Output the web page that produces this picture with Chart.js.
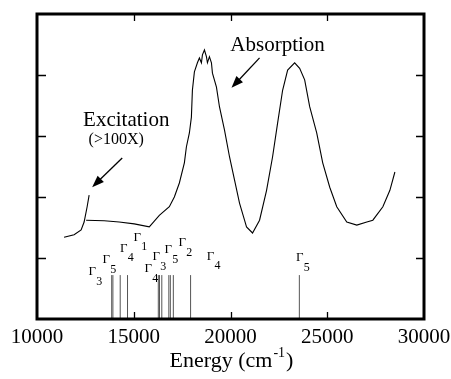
<!DOCTYPE html>
<html>
<head>
<meta charset="utf-8">
<script src="https://cdn.jsdelivr.net/npm/chart.js@4.4.1/dist/chart.umd.min.js"></script>
<style>
  body { margin: 0; background: #fff; }
  #wrap { width: 451px; height: 379px; }
</style>
</head>
<body>
<div id="wrap"><canvas id="chart" width="451" height="379"></canvas></div>
<script>
// energies in cm-1, intensities in arbitrary units (0..5)
const excitationEnergy = [11399, 11917, 12280, 12435, 12591, 12694]
const excitationIntensity = [1.34, 1.38, 1.46, 1.59, 1.84, 2.03]

const absorptionEnergy = [12539, 13471, 14248, 15026, 15803, 16321, 16839, 17098, 17357, 17616,
    17720, 17875, 17979, 18031, 18134, 18290, 18393, 18497, 18549, 18653,
    18756, 18808, 18911, 19015, 19067, 19274, 19429, 19688, 19948, 20207,
    20466, 20725, 20828, 21139, 21502, 21864, 22175, 22434, 22693, 22953,
    23315, 23574, 23833, 24092, 24455, 24766, 25129, 25491, 26009, 26527,
    27045, 27356, 27874, 28237, 28496]
const absorptionIntensity = [1.62, 1.61, 1.59, 1.56, 1.51, 1.70, 1.84, 2.00, 2.23, 2.56,
    2.82, 3.05, 3.31, 3.75, 4.05, 4.20, 4.28, 4.20, 4.33, 4.41,
    4.30, 4.20, 4.30, 4.20, 4.03, 3.80, 3.48, 3.10, 2.66, 2.28,
    1.90, 1.62, 1.51, 1.41, 1.62, 2.11, 2.66, 3.21, 3.75, 4.08,
    4.20, 4.11, 3.92, 3.48, 3.05, 2.56, 2.16, 1.84, 1.59, 1.54,
    1.59, 1.62, 1.84, 2.11, 2.41]

// calculated transitions (sticks)
const transitionEnergy = [13860, 13922, 14300, 14678, 16269, 16331, 16450, 16813, 16891, 17046, 17937, 23558]
const transitionHeight = 0.72

// irreducible representation labels
const levelSymbol = ["3", "5", "4", "1", "4", "3", "5", "2", "4", "5"]
const levelEnergy = [12850, 13575, 14482, 15181, 15751, 16165, 16787, 17512, 18963, 23574]
const levelHeight = [0.77, 0.97, 1.16, 1.34, 0.82, 1.02, 1.13, 1.25, 1.03, 1.00]

const xTicks = [10000, 15000, 20000, 25000, 30000]
const yTicks = [1, 2, 3, 4]

const serif = "'Liberation Serif', 'Times New Roman', serif"

const toPoints = (xs, ys) => xs.map((x, i) => ({x: x, y: ys[i]}))

const sticks = []
transitionEnergy.forEach(e => {
    sticks.push({x: e, y: 0})
    sticks.push({x: e, y: transitionHeight})
    sticks.push({x: e, y: null})
})

const arrow = (ctx, x1, y1, x2, y2) => {
    const a = Math.atan2(y2 - y1, x2 - x1)
    ctx.beginPath()
    ctx.moveTo(x1, y1)
    ctx.lineTo(x2 - 6 * Math.cos(a), y2 - 6 * Math.sin(a))
    ctx.stroke()
    ctx.beginPath()
    ctx.moveTo(x2, y2)
    ctx.lineTo(x2 - 12 * Math.cos(a) + 4.5 * Math.sin(a), y2 - 12 * Math.sin(a) - 4.5 * Math.cos(a))
    ctx.lineTo(x2 - 12 * Math.cos(a) - 4.5 * Math.sin(a), y2 - 12 * Math.sin(a) + 4.5 * Math.cos(a))
    ctx.closePath()
    ctx.fill()
}

const decorations = {
    id: "decorations",
    afterDraw(chart) {
        const ctx = chart.ctx
        const a = chart.chartArea
        const xs = chart.scales.x
        const ys = chart.scales.y
        ctx.save()
        ctx.strokeStyle = "#000"
        ctx.fillStyle = "#000"

        // frame
        ctx.lineWidth = 3
        ctx.strokeRect(a.left, a.top, a.right - a.left, a.bottom - a.top)

        // inward ticks
        ctx.lineWidth = 1.3
        ctx.beginPath()
        xTicks.slice(1, -1).forEach(v => {
            const px = Math.round(xs.getPixelForValue(v)) + 0.5
            ctx.moveTo(px, a.bottom); ctx.lineTo(px, a.bottom - 7)
            ctx.moveTo(px, a.top); ctx.lineTo(px, a.top + 7)
        })
        yTicks.forEach(v => {
            const py = Math.round(ys.getPixelForValue(v)) + 0.5
            ctx.moveTo(a.left, py); ctx.lineTo(a.left + 9, py)
            ctx.moveTo(a.right, py); ctx.lineTo(a.right - 8, py)
        })
        ctx.stroke()

        // Gamma labels
        ctx.textAlign = "center"
        ctx.textBaseline = "middle"
        levelSymbol.forEach((s, i) => {
            const px = xs.getPixelForValue(levelEnergy[i])
            const py = ys.getPixelForValue(levelHeight[i])
            ctx.font = "13px " + serif
            ctx.fillText("\u0393", px, py)
            ctx.font = "12px " + serif
            ctx.fillText(s, px + 7, py + 10)
        })

        // annotations
        ctx.font = "21px " + serif
        ctx.fillText("Excitation", xs.getPixelForValue(14611), ys.getPixelForValue(3.26))
        ctx.font = "16px " + serif
        ctx.fillText("(>100X)", xs.getPixelForValue(14093), ys.getPixelForValue(2.93))
        ctx.font = "21px " + serif
        ctx.fillText("Absorption", xs.getPixelForValue(22434), ys.getPixelForValue(4.49))

        ctx.lineWidth = 1.3
        arrow(ctx, xs.getPixelForValue(14404), ys.getPixelForValue(2.64),
                   xs.getPixelForValue(12850), ys.getPixelForValue(2.16))
        arrow(ctx, xs.getPixelForValue(21502), ys.getPixelForValue(4.28),
                   xs.getPixelForValue(20051), ys.getPixelForValue(3.79))

        // axis title with superscript
        const main = "Energy (cm"
        const sup = "-1"
        const close = ")"
        ctx.textAlign = "left"
        ctx.textBaseline = "alphabetic"
        ctx.font = "22px " + serif
        const w1 = ctx.measureText(main).width
        const w3 = ctx.measureText(close).width
        ctx.font = "14px " + serif
        const w2 = ctx.measureText(sup).width
        const cx = (a.left + a.right) / 2
        let x0 = cx - (w1 + w2 + w3) / 2
        const base = 367
        ctx.font = "22px " + serif
        ctx.fillText(main, x0, base)
        ctx.font = "14px " + serif
        ctx.fillText(sup, x0 + w1 + 1, base - 10)
        ctx.font = "22px " + serif
        ctx.fillText(close, x0 + w1 + w2 + 2, base)
        ctx.restore()
    }
}

const chart = new Chart("chart", {
    type: "line",
    data: {
        datasets: [
            {
                data: toPoints(excitationEnergy, excitationIntensity),
                borderColor: "#000",
                borderWidth: 1.1,
                pointRadius: 0,
                tension: 0
            },
            {
                data: toPoints(absorptionEnergy, absorptionIntensity),
                borderColor: "#000",
                borderWidth: 1.1,
                pointRadius: 0,
                tension: 0
            },
            {
                data: sticks,
                borderColor: "#555",
                borderWidth: 1,
                pointRadius: 0,
                spanGaps: false
            }
        ]
    },
    options: {
        responsive: false,
        animation: false,
        events: [],
        layout: {padding: {top: 14, right: 27, left: 0, bottom: 0}},
        plugins: {
            legend: {display: false},
            tooltip: {enabled: false}
        },
        scales: {
            x: {
                type: "linear",
                min: 10000,
                max: 30000,
                afterBuildTicks: s => { s.ticks = xTicks.map(v => ({value: v})) },
                afterFit: s => { s.height = 60; s.paddingLeft = 0; s.paddingRight = 0 },
                grid: {display: false, drawTicks: false},
                border: {display: false},
                ticks: {
                    color: "#000",
                    padding: 6,
                    maxRotation: 0,
                    autoSkip: false,
                    font: {family: serif, size: 21},
                    callback: v => String(v)
                }
            },
            y: {
                type: "linear",
                min: 0,
                max: 5,
                afterFit: s => { s.width = 37 },
                grid: {display: false, drawTicks: false},
                border: {display: false},
                ticks: {display: false}
            }
        }
    },
    plugins: [decorations]
})
</script>
</body>
</html>
